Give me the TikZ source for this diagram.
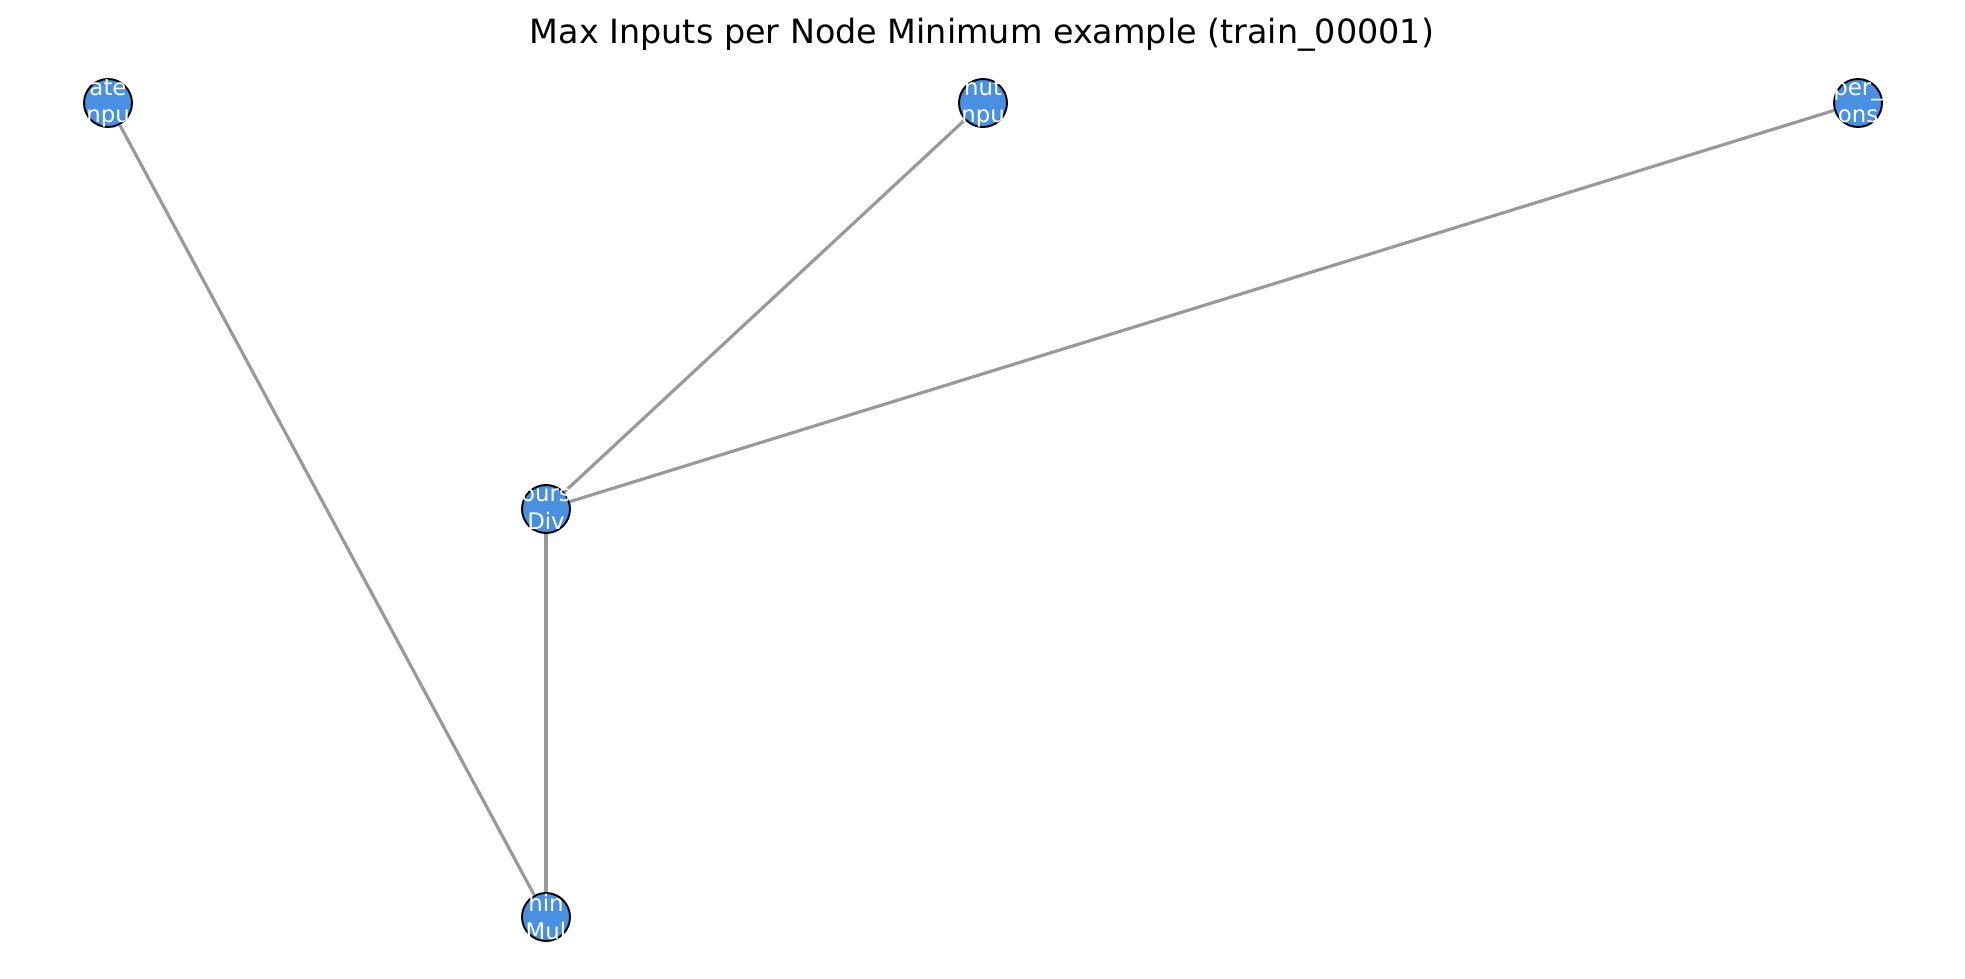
\documentclass[tikz,border=0pt]{standalone}
\usepackage{fontspec}
\setmainfont{DejaVu Sans}
\definecolor{opblue}{RGB}{74,144,226}
\definecolor{wiregray}{RGB}{153,153,153}

\begin{document}
\begin{tikzpicture}[x=0.02cm, y=-0.02cm,
    opnode/.style={circle, draw=black, line width=1.1pt, fill=opblue, minimum size=0.96cm, inner sep=0pt},
    optext/.style={text=white, align=center, inner sep=0pt, font=\fontsize{13}{15.5}\selectfont},
    wire/.style={draw=wiregray, line width=1.8pt}]

	% fixing the page to the size of the reference
	\useasboundingbox (0,0) rectangle (1965,978);

	\node[font=\fontsize{19}{23}\selectfont] (title) at (982,35) {Max Inputs per Node Minimum example (train\_00001)};

	% the operator nodes
	\node[opnode] (in1) at (108,103) {};
	\node[opnode] (in2) at (983,103) {};
	\node[opnode] (cst) at (1858,103) {};
	\node[opnode] (div) at (546,509) {};
	\node[opnode] (mul) at (546,917) {};

	% the connections between them
	\draw[wire] (in1) -- (mul);
	\draw[wire] (in2) -- (div);
	\draw[wire] (cst) -- (div);
	\draw[wire] (div) -- (mul);

	% white labels on top, only what shows inside the circles
	\foreach \n/\t in {in1/ate\\npu, in2/nut\\npu, cst/per\_\\ons, div/ours\\Div, mul/hin\\Mul}
		\node[optext] at (\n) {\t};

\end{tikzpicture}
\end{document}
